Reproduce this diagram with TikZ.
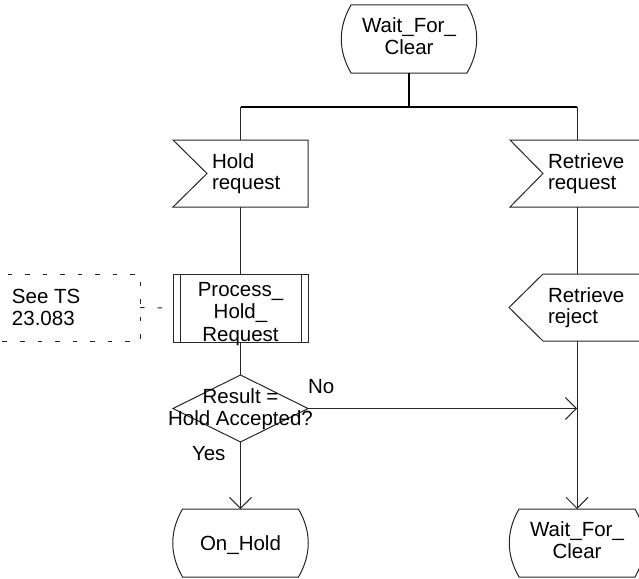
\documentclass[tikz,border=0pt]{standalone}
\usepackage{fontspec}
\setmainfont{Liberation Sans}
\usetikzlibrary{arrows.meta,calc}
\newcommand\statesym[3]{%
  \draw[ln] ({#1-58},#2) -- ({#1+58},#2)
    .. controls ({#1+71},{#2+(#3-#2)/3}) and ({#1+71},{#3-(#3-#2)/3}) .. ({#1+58},#3)
    -- ({#1-58},#3)
    .. controls ({#1-71},{#3-(#3-#2)/3}) and ({#1-71},{#2+(#3-#2)/3}) .. ({#1-58},#2) -- cycle;}
\begin{document}
\begin{tikzpicture}[x=1pt,y=-1pt,
  every node/.style={inner sep=0pt,outer sep=0pt},
  holder/.style={minimum width=#1,minimum height=68pt},
  ln/.style={draw=black!85,line width=1pt},
  heavy/.style={draw=black,line width=2pt},
  txt/.style={font=\fontsize{20.5}{22}\selectfont,align=center,anchor=base},
  txtl/.style={font=\fontsize{20.5}{21}\selectfont,align=left,anchor=base west},
  arr/.style={ln,-{Straight Barb[length=11pt,width=22pt,line width=1pt]}},
  dsh/.style={draw=black!85,line width=1pt,dash pattern=on 4.5pt off 13pt}
]
\useasboundingbox (0,0) rectangle (639,578);

% holder nodes (shape extents)
\node[holder=136pt] (wfc) at (409,39) {};
\node[holder=135pt,minimum height=67pt] (hold) at (240.5,173.5) {};
\node[holder=134pt,minimum height=67pt] (retrq) at (577,173.5) {};
\node[holder=135pt] (proc) at (240.5,308) {};
\node[holder=145pt,minimum height=67pt] (seets) at (67.5,307.5) {};
\node[holder=135pt,minimum height=67pt] (retrj) at (577,307.5) {};
\node[holder=135pt,minimum height=67pt] (dec) at (240.5,408.5) {};
\node[holder=136pt] (onhold) at (240.5,543) {};
\node[holder=136pt] (wfc2) at (577,543) {};

% symbols
\statesym{409}{5}{73}
\statesym{240.5}{509}{577}
\statesym{577}{509}{577}
\draw[ln] (173,140) -- (308,140) -- (308,207) -- (173,207) -- (207,173.5) -- cycle;
\draw[ln] (650,140) -- (510,140) -- (543,173.5) -- (510,207) -- (650,207);
\draw[ln] (173,274) rectangle (308,342);
\draw[ln] (180,274) -- (180,342) (301,274) -- (301,342);
\draw[dsh] (-10,274) -- (140,274) -- (140,341) -- (-10,341);
\draw[ln] (650,274) -- (543,274) -- (509,307.5) -- (543,341) -- (650,341);
\draw[ln] (dec.north) -- (dec.east) -- (dec.south) -- (dec.west) -- cycle;

% texts (base anchor = baseline of last line)
\node[txt] (t1) at (409,55) {Wait\_For\_\\Clear};
\node[txtl] (t2) at (212,189) {Hold\\request};
\node[txtl] (t3) at (548,189) {Retrieve\\request};
\node[txt,font=\fontsize{20.5}{22.5}\selectfont] (t4) at (240.5,341) {Process\_\\Hold\_\\Request};
\node[txtl,font=\fontsize{20.5}{22}\selectfont] (t5) at (12,325) {See TS\\23.083};
\node[txtl] (t6) at (548,323) {Retrieve\\reject};
\node[txt] (t7) at (240.5,425) {Result =\\Hold Accepted?};
\node[txtl] (t8) at (308,393) {No};
\node[txtl] (t9) at (192,460) {Yes};
\node[txt] (t10) at (240.5,550) {On\_Hold};
\node[txt] (t11) at (577,558) {Wait\_For\_\\Clear};

% connectors
\coordinate (jc) at (409,107);
\coordinate (jl) at (240.5,107);
\coordinate (jr) at (577,107);
\draw[heavy] (wfc.south) -- (jc);
\draw[heavy] (jl) -- (jr);
\draw[ln] (jl) -- (hold.north);
\draw[ln] (jr) -- (retrq.north);
\draw[ln] (hold.south) -- (proc.north);
\draw[ln] (retrq.south) -- (retrj.north);
\draw[dsh] (seets.east) -- (proc.west);
\draw[ln] (proc.south) -- (dec.north);
\draw[arr] (dec.south) -- (onhold.north);
\draw[arr] (dec.east) -- (dec.east -| retrj.south);
\draw[arr] (retrj.south) -- (wfc2.north);
\end{tikzpicture}
\end{document}
